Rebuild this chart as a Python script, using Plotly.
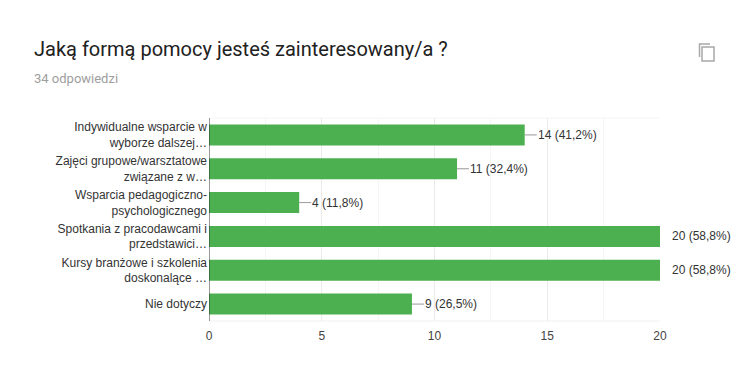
import plotly.graph_objects as go

categories = [
    "Indywidualne wsparcie w<br>wyborze dalszej…",
    "Zajęci grupowe/warsztatowe<br>związane z w…",
    "Wsparcia pedagogiczno-<br>psychologicznego",
    "Spotkania z pracodawcami i<br>przedstawici…",
    "Kursy branżowe i szkolenia<br>doskonalące …",
    "Nie dotyczy",
]
values = [14, 11, 4, 20, 20, 9]
value_labels = ["14 (41,2%)", "11 (32,4%)", "4 (11,8%)", "20 (58,8%)", "20 (58,8%)", "9 (26,5%)"]
x_ticks = [0, 5, 10, 15, 20]
title = "Jaką formą pomocy jesteś zainteresowany/a ?"
subtitle = "34 odpowiedzi"

W, H = 747, 388
L, R, T, B = 209, 87, 118, 67
FONT = "Liberation Sans"

fig = go.Figure(go.Bar(
    y=categories, x=values, orientation="h",
    marker=dict(color="#4caf50", line=dict(width=0)),
    width=0.62, hoverinfo="skip",
))

annotations, shapes = [], []
for cat, v, lab in zip(categories, values, value_labels):
    at_max = v == max(x_ticks)
    annotations.append(dict(
        x=v, y=cat, xref="x", yref="y", text=lab, showarrow=False,
        xanchor="left", yanchor="middle", xshift=10 if at_max else 11,
        font=dict(family=FONT, size=12, color="#333333"),
    ))
    if not at_max:
        shapes.append(dict(
            type="line", xref="x", yref="y", xsizemode="pixel", xanchor=v,
            x0=0, x1=12, y0=cat, y1=cat, line=dict(color="#999999", width=1), layer="above",
        ))

def paper_x(x):
    return (x - L) / (W - L - R)
def paper_y(y):
    return 1 - (y - T) / (H - T - B)

annotations.append(dict(
    x=paper_x(32), y=paper_y(49), xref="paper", yref="paper", text=title, showarrow=False,
    xanchor="left", yanchor="middle", font=dict(family="Roboto", size=20, color="#212121"),
))
annotations.append(dict(
    x=paper_x(32), y=paper_y(78.5), xref="paper", yref="paper", text=subtitle, showarrow=False,
    xanchor="left", yanchor="middle", font=dict(family="Roboto", size=13, color="#9e9e9e"),
))

# copy icon
shapes.append(dict(type="rect", xref="paper", yref="paper",
                   x0=paper_x(702), x1=paper_x(714), y0=paper_y(61), y1=paper_y(47),
                   line=dict(color="#a8a8a8", width=1.5), fillcolor="white"))
shapes.append(dict(type="path", xref="paper", yref="paper",
                   path=f"M {paper_x(699.5)} {paper_y(57)} L {paper_x(699.5)} {paper_y(44)} L {paper_x(710)} {paper_y(44)}",
                   line=dict(color="#a8a8a8", width=1.5)))

fig.update_layout(
    width=W, height=H, autosize=False,
    margin=dict(l=L, r=R, t=T, b=B, pad=0),
    paper_bgcolor="white", plot_bgcolor="white", showlegend=False,
    font=dict(family=FONT, size=12, color="#444444"),
    annotations=annotations, shapes=shapes,
    xaxis=dict(
        range=[0, 20], tickvals=x_ticks, ticks="", showline=False, zeroline=False,
        gridcolor="#ebebeb", gridwidth=1, tickfont=dict(family=FONT, size=12, color="#444444"),
        minor=dict(dtick=2.5, showgrid=True, gridcolor="#f5f5f5", gridwidth=1, ticks=""),
        ticklen=0, ticklabelstandoff=6,
    ),
    yaxis=dict(
        autorange="reversed", showline=False, showgrid=False, zeroline=False, ticks="",
        ticklen=0, tickfont=dict(family=FONT, size=12, color="#333333"),
        ticklabelstandoff=1,
    ),
)
# axis line at zero, light bottom border
fig.add_shape(type="line", xref="x", yref="paper", x0=0, x1=0, y0=0, y1=1, line=dict(color="#333333", width=1), layer="above")
fig.add_shape(type="line", xref="paper", yref="paper", x0=0, x1=1, y0=0, y1=0, line=dict(color="#f0f0f0", width=1), layer="below")
fig.add_shape(type="line", xref="paper", yref="paper", x0=0, x1=1, y0=1, y1=1, line=dict(color="#f5f5f5", width=1), layer="below")

fig.write_html("out.html", post_script="document.body.style.margin='0';", config={"displayModeBar": False})
